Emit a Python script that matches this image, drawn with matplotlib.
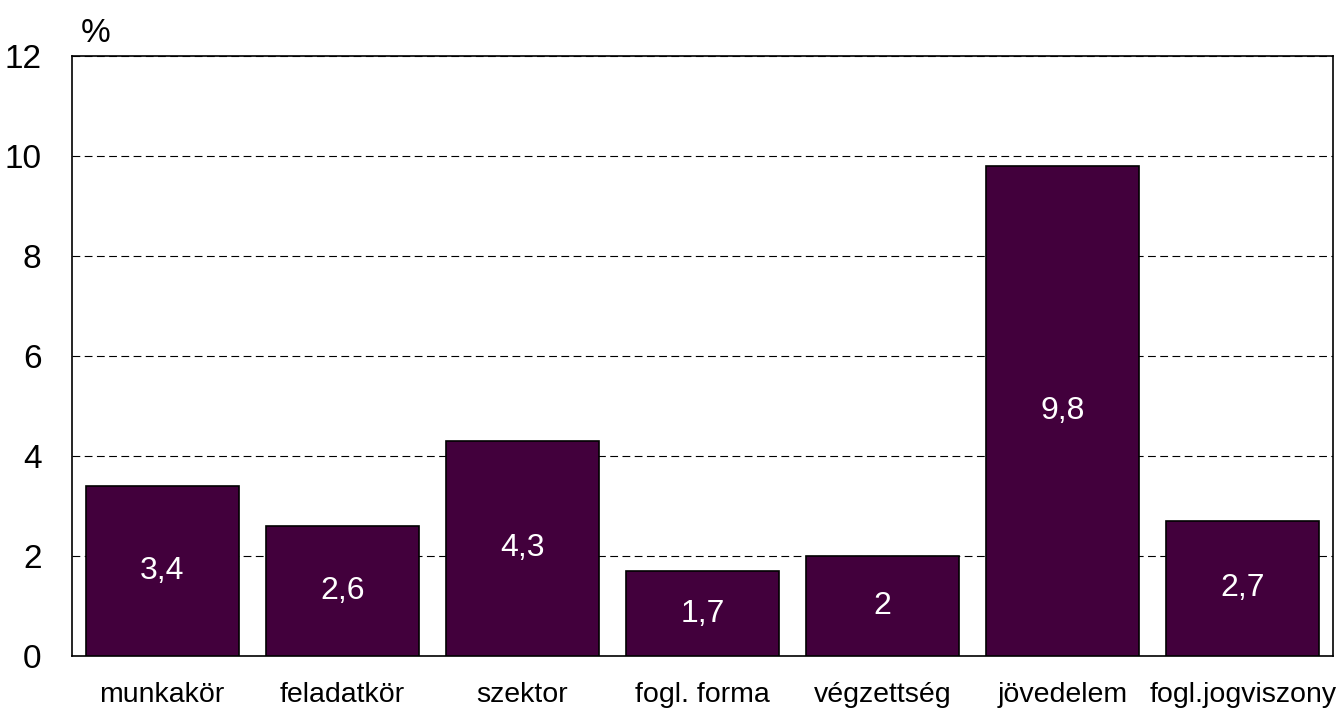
import matplotlib
matplotlib.use("Agg")
from matplotlib import pyplot as plt
import numpy as np

categories = ["munkakör", "feladatkör", "szektor", "fogl. forma",
              "végzettség", "jövedelem", "fogl.jogviszony"]
values = [3.4, 2.6, 4.3, 1.7, 2.0, 9.8, 2.7]
labels = ["3,4", "2,6", "4,3", "1,7", "2", "9,8", "2,7"]
yticks = [0, 2, 4, 6, 8, 10, 12]

plt.rcParams['font.family'] = ['Liberation Sans', 'DejaVu Sans']

fig = plt.figure(figsize=(13.38, 7.15), dpi=100)
ax = fig.add_axes([72/1338, 1-656/715, (1333-72)/1338, (656-56)/715])

x = np.arange(len(categories))
bars = ax.bar(x, values, width=0.85, color="#42003c", edgecolor="black",
              linewidth=1.2, zorder=3)
for b, lab in zip(bars, labels):
    ax.text(b.get_x() + b.get_width()/2, b.get_height()/2, lab,
            ha="center", va="center", color="white", fontsize=23, zorder=4)

ax.set_xlim(-0.5, len(categories) - 0.5)
ax.set_ylim(0, 12)
ax.set_yticks(yticks)
ax.set_yticklabels([str(t) for t in yticks], fontsize=24)
ax.set_xticks(x)
ax.set_xticklabels(categories, fontsize=20.5)
ax.tick_params(axis="y", length=0, pad=22)
ax.tick_params(axis="x", length=0, pad=19)
ax.yaxis.grid(True, linestyle=(0, (7, 4)), color="black", linewidth=0.8, zorder=0)
for s in ax.spines.values():
    s.set_linewidth(1.2)
    s.set_color("black")

ax.text(0.007, 1.012, "%", transform=ax.transAxes, fontsize=24, ha="left", va="bottom")

fig.savefig("out.png", dpi=100)
